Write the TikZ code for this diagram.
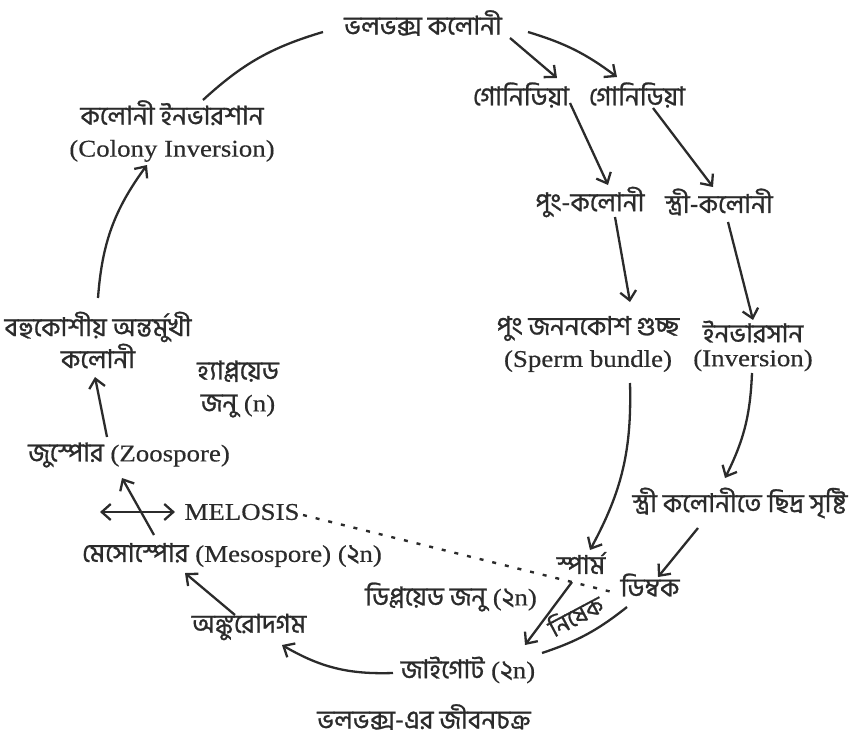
\documentclass[tikz,border=0pt]{standalone}
\usepackage{fontspec}
\setmainfont{Liberation Serif}[FakeStretch=1.12,FakeBold=0.4]
\newfontfamily\bn[Script=Bengali,FakeBold=1]{Hind Siliguri}
\usepackage{tikz}
\usetikzlibrary{arrows.meta,calc}
\definecolor{ink}{HTML}{2B2B2B}
\newcommand\bnt[1]{{\fontsize{26}{30}\bn #1}}
\tikzset{
  lbl/.style  = {text=ink, align=center, inner sep=1pt,
                 font=\fontsize{24}{32}\selectfont},
  bng/.style  = {lbl, font=\fontsize{26}{32}\bn},
  flow/.style = {-{Straight Barb[length=9pt,width=16pt]}, draw=ink, line width=2.3pt},
  both/.style = {{Straight Barb[length=9pt,width=16pt]}-{Straight Barb[length=9pt,width=16pt]},
                 draw=ink, line width=2.3pt},
  link/.style = {draw=ink, line width=2.3pt},
  dots/.style = {draw=ink, line width=2.4pt, dash pattern=on 4pt off 9pt},
}

\begin{document}
\begin{tikzpicture}[x=1pt, y=-1pt]
  \useasboundingbox (0,0) rectangle (853,741);

  % nodes
  \node[bng] (volvox)  at (423,23)  {ভলভক্স কলোনী};
  \node[bng] (gonA)    at (521,95)  {গোনিডিয়া};
  \node[bng] (gonB)    at (637,95)  {গোনিডিয়া};
  \node[bng] (malecol) at (590,202) {পুং-কলোনী};
  \node[bng] (femcol)  at (719,202) {স্ত্রী-কলোনী};
  \node[lbl] (bundle)  at (588,344) {\bnt{পুং জননকোশ গুচ্ছ}\\(Sperm bundle)};
  \node[lbl] (inver)   at (753,346) {\bnt{ইনভারসান}\\[-8pt](Inversion)};
  \node[bng] (pore)    at (740,503) {স্ত্রী কলোনীতে ছিদ্র সৃষ্টি};
  \node[bng] (sperm)   at (581,563) {স্পার্ম};
  \node[bng] (egg)     at (650,585) {ডিম্বক};
  \node[bng, rotate=28, inner sep=0pt, anchor=base,
        font=\fontsize{24}{30}\bn] (fert) at (580,624) {নিষেক};
  \node[lbl] (diploid) at (451,597) {\bnt{ডিপ্লয়েড জনু} (\bnt{২}n)};
  \node[lbl] (zygote)  at (468,670) {\bnt{জাইগোট} (\bnt{২}n)};
  \node[bng] (germ)    at (249,627) {অঙ্কুরোদগম};
  \node[lbl] (meso)    at (232,555) {\bnt{মেসোস্পোর} (Mesospore) (\bnt{২}n)};
  \node[lbl] (meiosis) at (242,512) {MELOSIS};
  \node[lbl] (zoo)     at (129,455) {\bnt{জুস্পোর} (Zoospore)};
  \node[lbl] (haploid) at (238,389) {\bnt{হ্যাপ্লয়েড}\\\bnt{জনু} (n)};
  \node[bng] (multi)   at (98,340)  {বহুকোশীয় অন্তর্মুখী\\কলোনী};
  \node[lbl] (colinv)  at (172,131) {\bnt{কলোনী ইনভারশান}\\(Colony Inversion)};
  \node[bng] (caption) at (424,717) {ভলভক্স-এর জীবনচক্র};

  % sexual branch
  \draw[flow] ($(volvox)+(87,15)$) -- ($(gonA)+(36,-17)$);
  \draw[flow] ($(volvox)+(105,9)$) to[bend left=10] ($(gonB)+(-20,-18)$);
  \draw[flow] ($(gonA)+(49,8)$) -- ($(malecol)+(18,-17)$);
  \draw[flow] ($(gonB)+(16,13)$) -- ($(femcol)+(-6,-15)$);
  \draw[flow] ($(malecol)+(25,15)$) -- ($(bundle)+(42,-42)$);
  \draw[flow] ($(femcol)+(9,20)$) -- ($(inver)+(0,-26)$);
  \draw[flow] ($(bundle)+(42,39)$) to[bend left=15] ($(sperm)+(9,-13)$);
  \draw[flow] ($(inver)+(-1,27)$) to[bend left=12] ($(pore)+(-15,-25)$);
  \draw[flow] ($(pore)+(-42,25)$) -- ($(egg)+(8,-8)$);
  \draw[flow] ($(sperm)+(-9,19)$) -- ($(zygote)+(57,-25)$);
  \draw[link] ($(egg)+(-23,22)$) to[bend left=10] ($(zygote)+(74,-17)$);

  % back to the colony
  \draw[flow] ($(zygote)+(-75,3)$) to[bend left=16] ($(germ)+(33,18)$);
  \draw[flow] ($(germ)+(-14,-12)$) -- ($(meso)+(-47,18)$);
  \draw[flow] ($(meso)+(-78,-20)$) -- ($(zoo)+(-7,23)$);
  \draw[flow] ($(zoo)+(-22,-18)$) -- ($(multi)+(-3,37)$);
  \draw[flow] ($(multi)+(0,-42)$) to[bend left=16] ($(colinv)+(-25,34)$);
  \draw[link] ($(colinv)+(31,-31)$) to[bend left=13] ($(volvox)+(-100,9)$);

  \draw[both] ($(meiosis)+(-142,0)$) -- ($(meiosis)+(-67,0)$);
  \draw[dots] ($(meiosis)+(61,3)$) -- ($(egg)+(-38,7)$);
\end{tikzpicture}
\end{document}
